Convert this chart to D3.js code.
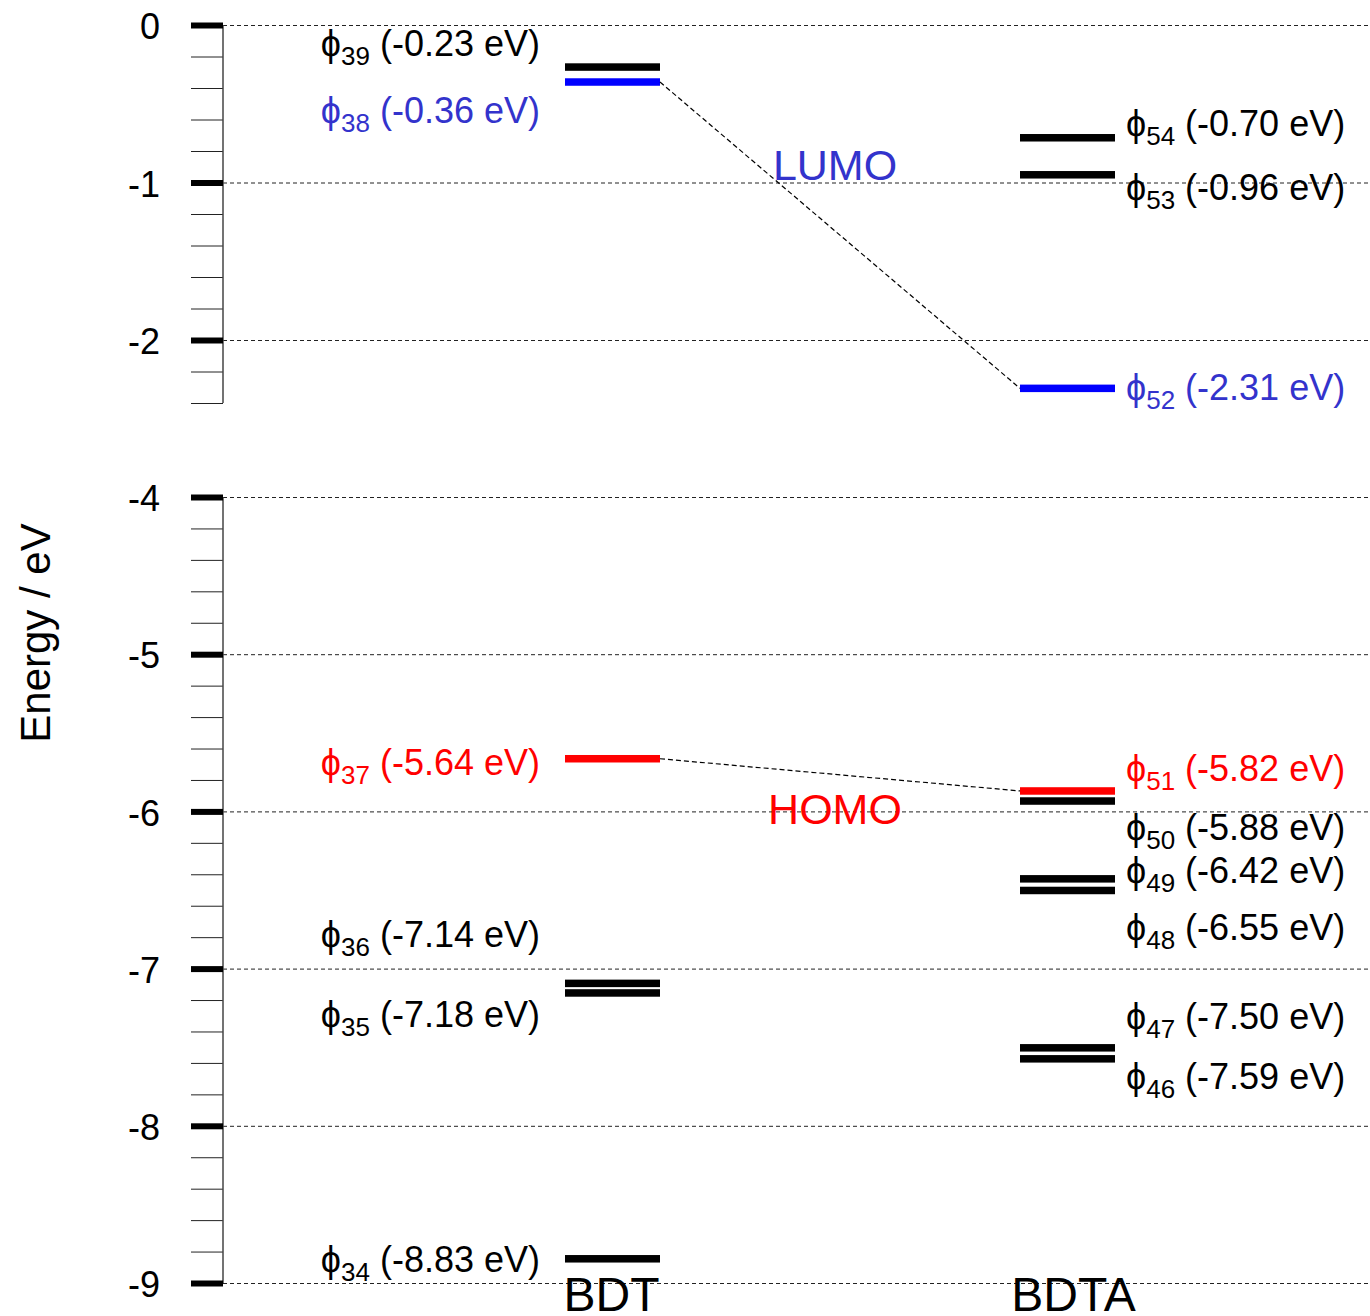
<!DOCTYPE html>
<html><head><meta charset="utf-8">
<script src="https://cdn.jsdelivr.net/npm/d3@7"></script>
<style>
body{margin:0;background:#fff}
svg{display:block}
text{font-family:"Liberation Sans",Arial,Helvetica,sans-serif}
</style>
</head><body>
<svg id="chart" width="1370" height="1316"></svg>
<script>
// ---------- data ----------
const columns = ["BDT", "BDTA"];

const bdtOrbital  = [39, 38, 37, 36, 35, 34];
const bdtEnergy   = [-0.23, -0.36, -5.64, -7.14, -7.18, -8.83];   // labelled energies (eV)
const bdtLevelAt  = [-0.267, -0.362, -5.665, -7.094, -7.155, -8.846]; // where each level bar is drawn (eV)
const bdtLabelAt  = [-0.133, -0.556, -5.705, -6.802, -7.306, -8.864]; // where each label sits (eV)
const bdtKind     = ["other", "lumo", "homo", "other", "other", "other"];

const bdtaOrbital = [54, 53, 52, 51, 50, 49, 48, 47, 46];
const bdtaEnergy  = [-0.70, -0.96, -2.31, -5.82, -5.88, -6.42, -6.55, -7.50, -7.59];
const bdtaLevelAt = [-0.716, -0.951, -2.307, -5.870, -5.934, -6.429, -6.503, -7.504, -7.574];
const bdtaLabelAt = [-0.641, -1.048, -2.317, -5.742, -6.118, -6.394, -6.754, -7.321, -7.702];
const bdtaKind    = ["other", "other", "lumo", "homo", "other", "other", "other", "other", "other"];

const majorTicks   = [0, -1, -2, -4, -5, -6, -7, -8, -9];
const axisSegments = [[0, -2.4], [-4, -9]];
const annotationText = ["LUMO", "HOMO"];
const annotationKind = ["lumo", "homo"];
const annotationAt   = [-0.985, -6.08];

// ---------- styles ----------
const barColor   = {other: "#000000", lumo: "#0000ff", homo: "#ff0000"};
const labelColor = {other: "#000000", lumo: "#3333cc", homo: "#ff0000"};
const columnShift = {BDT: -1, BDTA: 6};
const W = 1370, H = 1316;
const axisX = 223;

// ---------- scales ----------
const y = d3.scaleLinear().domain([0, -2.4, -4, -9]).range([25, 403, 497, 1283]);
const x = d3.scalePoint().domain(columns).range([612.5, 1067.5]);
const halfW = 47.5, barH = 7.5;

const svg = d3.select("#chart");

// minor ticks (every 0.2 eV inside each axis segment)
const minorTicks = [];
axisSegments.forEach(([a, b]) => {
  d3.range(Math.round(a * 5), Math.round(b * 5) - 1, -1).forEach(k => {
    const v = k / 5;
    if (Math.abs(v - Math.round(v)) > 1e-6) minorTicks.push(v);
  });
});

// gridlines
const grid = svg.append("g").attr("transform", `translate(${axisX},0)`)
  .call(d3.axisRight(y).tickValues(majorTicks).tickSize(W - axisX).tickFormat(""));
grid.select(".domain").remove();
grid.selectAll(".tick line").attr("stroke", "#222").attr("stroke-width", 1).attr("stroke-dasharray", "4,3");

// minor ticks
const minor = svg.append("g").attr("transform", `translate(${axisX},0)`)
  .call(d3.axisLeft(y).tickValues(minorTicks).tickSize(32).tickFormat(""));
minor.select(".domain").remove();
minor.selectAll(".tick line").attr("stroke", "#222").attr("stroke-width", 1);

// axis segments
svg.append("g").selectAll("line").data(axisSegments).join("line")
  .attr("x1", axisX).attr("x2", axisX)
  .attr("y1", d => y(d[0])).attr("y2", d => y(d[1]))
  .attr("stroke", "#444").attr("stroke-width", 1.5);

// major ticks + labels
const major = svg.append("g").attr("transform", `translate(${axisX},0)`)
  .call(d3.axisLeft(y).tickValues(majorTicks).tickSize(32).tickPadding(31).tickFormat(d => String(d)));
major.select(".domain").remove();
major.attr("font-size", null).attr("font-family", null);
major.selectAll(".tick line").attr("stroke", "#000").attr("stroke-width", 6);
major.selectAll(".tick text").attr("fill", "#000").style("font-size", "36px").attr("dy", "0.38em");

// axis title
svg.append("text")
  .attr("transform", "translate(35,633) rotate(-90)")
  .attr("text-anchor", "middle").attr("dominant-baseline", "central")
  .style("font-size", "42px").text("Energy / eV");

// ---------- levels ----------
function levels(col, orb, en, lvl, lab, kind, side) {
  const data = orb.map((o, i) => ({o, e: en[i], at: lvl[i], lab: lab[i], kind: kind[i]}));
  const g = svg.append("g");
  g.selectAll("rect").data(data).join("rect")
    .attr("x", x(col) - halfW).attr("width", 2 * halfW)
    .attr("y", d => y(d.at) - barH / 2).attr("height", barH)
    .attr("fill", d => barColor[d.kind]);
  const t = g.selectAll("text").data(data).join("text")
    .attr("x", side === "left" ? x(col) - halfW - 25 : x(col) + halfW + 11)
    .attr("y", d => y(d.lab) + 10)
    .attr("text-anchor", side === "left" ? "end" : "start")
    .attr("fill", d => labelColor[d.kind])
    .style("font-size", "36px");
  t.append("tspan").text("\u03D5");
  t.append("tspan").attr("dy", 9).style("font-size", "26px").text(d => d.o);
  t.append("tspan").attr("dy", -9).text(d => " (" + d.e.toFixed(2) + " eV)");
  return data;
}
const bdt = levels("BDT", bdtOrbital, bdtEnergy, bdtLevelAt, bdtLabelAt, bdtKind, "left");
const bdta = levels("BDTA", bdtaOrbital, bdtaEnergy, bdtaLevelAt, bdtaLabelAt, bdtaKind, "right");

// connectors between frontier orbitals
["lumo", "homo"].forEach(k => {
  const a = bdt.find(d => d.kind === k), b = bdta.find(d => d.kind === k);
  svg.append("line")
    .attr("x1", x("BDT") + halfW).attr("y1", y(a.at))
    .attr("x2", x("BDTA") - halfW).attr("y2", y(b.at))
    .attr("stroke", "#000").attr("stroke-width", 1.2).attr("stroke-dasharray", "5,3");
});

// annotations
svg.append("g").selectAll("text").data(annotationText).join("text")
  .attr("x", (x("BDT") + x("BDTA")) / 2 - 5)
  .attr("y", (d, i) => y(annotationAt[i]))
  .attr("text-anchor", "middle")
  .attr("fill", (d, i) => labelColor[annotationKind[i]])
  .style("font-size", "43px").text(d => d);

// column labels
svg.append("g").selectAll("text").data(columns).join("text")
  .attr("x", d => x(d) + columnShift[d]).attr("y", 1311)
  .attr("text-anchor", "middle").style("font-size", "48px").text(d => d);
</script>
</body></html>
